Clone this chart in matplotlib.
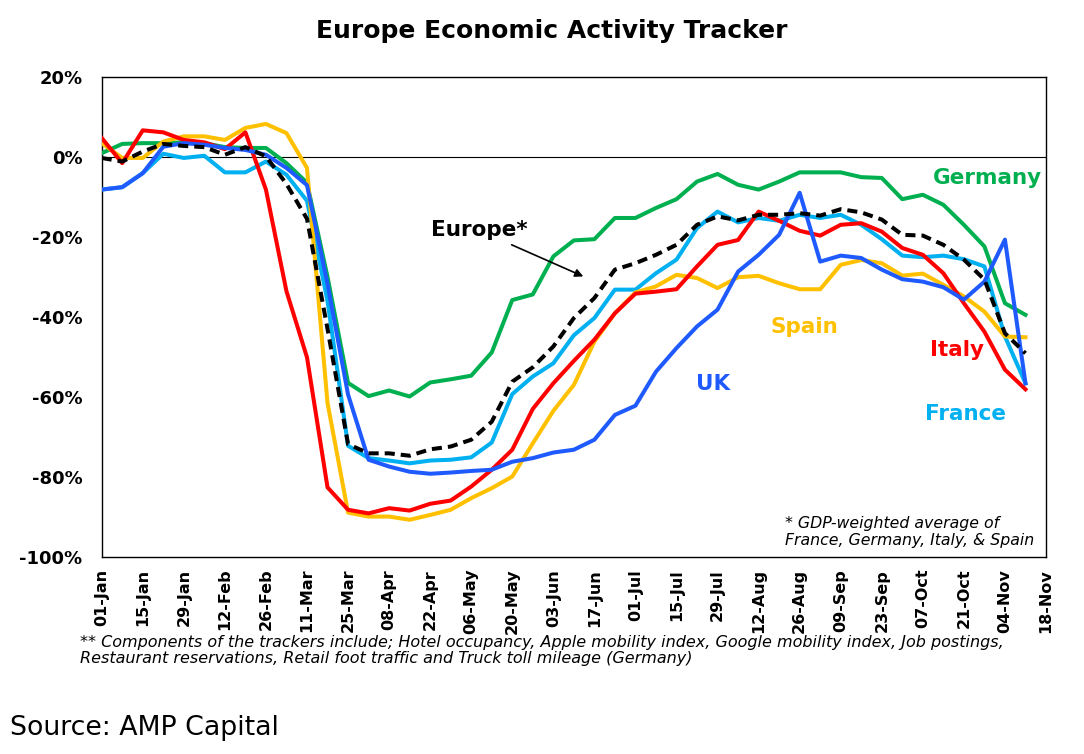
import matplotlib
matplotlib.use("Agg")
import matplotlib.pyplot as plt
import numpy as np

# ---- data (weekly, % change), first point 01-Jan, last 11-Nov ----
germany = [0.9, 3.2, 3.4, 3.4, 3.6, 3.4, 2.4, 2.2, 2.2, -1.6, -6.5, -30.0,
           -56.5, -59.8, -58.4, -59.9, -56.4, -55.6, -54.7, -48.9, -35.8, -34.4,
           -24.9, -20.9, -20.6, -15.3, -15.3, -12.8, -10.6, -6.2, -4.3, -7.0,
           -8.2, -6.2, -3.9, -3.9, -3.9, -5.1, -5.3, -10.6, -9.5, -12.0, -17.0,
           -22.4, -36.6, -39.5]
france = [-8.2, -7.6, -4.1, 0.75, -0.3, 0.25, -3.9, -3.9, -1.2, -4.5, -11.0, -36.0,
          -72.2, -75.3, -75.9, -76.6, -75.9, -75.7, -75.1, -71.4, -59.3, -54.9,
          -51.6, -44.6, -40.3, -33.2, -33.2, -29.1, -25.7, -17.8, -13.7, -16.4,
          -15.3, -16.0, -14.5, -15.3, -14.5, -17.0, -20.6, -24.7, -25.1, -24.7,
          -25.6, -27.4, -44.9, -56.6]
italy = [4.7, -1.6, 6.6, 6.1, 4.2, 3.6, 1.9, 6.1, -8.2, -33.6, -50.1, -82.6,
         -88.2, -89.1, -87.8, -88.4, -86.7, -85.9, -82.4, -78.2, -73.2, -63.0,
         -56.6, -51.0, -45.7, -39.1, -34.2, -33.7, -33.1, -27.4, -22.0, -20.8,
         -13.7, -16.0, -18.5, -19.7, -17.0, -16.6, -18.7, -22.8, -24.5, -29.1,
         -36.6, -43.7, -53.2, -58.1]
spain = [3.4, -0.3, -0.3, 3.8, 5.1, 5.1, 4.2, 7.2, 8.2, 5.9, -2.8, -61.5,
         -88.9, -89.9, -89.9, -90.7, -89.5, -88.2, -85.3, -82.8, -79.9, -71.6,
         -63.5, -57.0, -46.2, -39.1, -33.9, -32.4, -29.5, -30.3, -32.8, -30.1,
         -29.75, -31.6, -33.1, -33.1, -27.0, -25.8, -26.6, -29.7, -29.2, -32.0,
         -34.9, -38.7, -44.9, -45.1]
uk = [-8.2, -7.6, -4.1, 2.5, 3.4, 3.0, 2.2, 1.7, 0.5, -2.8, -7.1, -31.8,
      -59.4, -75.7, -77.4, -78.7, -79.2, -78.9, -78.5, -78.2, -76.2, -75.3,
      -73.9, -73.2, -70.7, -64.5, -62.2, -53.7, -47.8, -42.4, -38.2, -28.7,
      -24.5, -19.5, -9.0, -26.2, -24.7, -25.3, -28.2, -30.6, -31.2, -32.6,
      -35.7, -31.2, -20.7, -56.6]
europe = [-0.3, -1.2, 1.3, 3.2, 2.7, 2.4, 0.5, 2.4, 0.1, -6.8, -15.5, -43.0,
          -71.8, -74.1, -74.1, -74.7, -73.1, -72.4, -70.7, -66.2, -56.2, -52.6,
          -47.4, -40.3, -35.3, -28.2, -26.6, -24.5, -22.0, -17.0, -14.9, -15.9,
          -14.5, -14.5, -14.1, -14.7, -13.1, -13.9, -15.7, -19.5, -19.7, -22.0,
          -25.7, -30.7, -44.1, -49.1]

tick_labels = ["01-Jan", "15-Jan", "29-Jan", "12-Feb", "26-Feb", "11-Mar", "25-Mar",
               "08-Apr", "22-Apr", "06-May", "20-May", "03-Jun", "17-Jun", "01-Jul",
               "15-Jul", "29-Jul", "12-Aug", "26-Aug", "09-Sep", "23-Sep", "07-Oct",
               "21-Oct", "04-Nov", "18-Nov"]
y_ticks = [20, 0, -20, -40, -60, -80, -100]

C_GER = "#00B050"
C_FRA = "#00B0F0"
C_ITA = "#FF0000"
C_SPA = "#FFC000"
C_UK = "#1F5AFF"

W, H = 1084, 754
fig = plt.figure(figsize=(W / 100, H / 100), dpi=100)
ax = fig.add_axes([101.7 / W, 1 - 557 / H, (1046 - 101.7) / W, (557 - 76.7) / H])

x = np.arange(len(europe))
lw = 2.9
ax.plot(x, germany, color=C_GER, lw=lw, zorder=3)
ax.plot(x, france, color=C_FRA, lw=lw, zorder=3)
ax.plot(x, spain, color=C_SPA, lw=lw, zorder=3)
ax.plot(x, italy, color=C_ITA, lw=lw, zorder=4)
ax.plot(x, uk, color=C_UK, lw=lw, zorder=5)
ax.plot(x, europe, color="black", lw=lw, linestyle=(0, (2.5, 1.5)), zorder=6)

ax.axhline(0, color="black", lw=0.8, zorder=2)

ax.set_xlim(0, 46)
ax.set_ylim(-100, 20)
ax.set_xticks(np.arange(0, 47, 2))
ax.set_xticklabels(tick_labels, rotation=90, fontweight="bold", fontsize=11.5)
ax.set_yticks(y_ticks)
ax.set_yticklabels([f"{v}%" for v in y_ticks], fontweight="bold", fontsize=13)
ax.tick_params(axis="x", length=0, pad=8.5)
ax.tick_params(axis="y", length=0, pad=14)
for s in ax.spines.values():
    s.set_color("black")
    s.set_linewidth(1.0)

# series labels
lab = dict(fontsize=15.5, fontweight="bold", ha="center", va="baseline")
ax.text(43.15, -6.75, "Germany", color=C_GER, **lab)
ax.text(18.38, -19.75, "Europe*", color="black", **lab)
ax.text(34.25, -44.1, "Spain", color=C_SPA, **lab)
ax.text(41.66, -49.7, "Italy", color=C_ITA, **lab)
ax.text(29.78, -58.4, "UK", color=C_UK, **lab)
ax.text(42.1, -65.75, "France", color=C_FRA, **lab)

ax.annotate("", xy=(23.46, -29.9), xytext=(19.97, -22.0),
            arrowprops=dict(arrowstyle="-|>", color="black", lw=1.2,
                            mutation_scale=12, shrinkA=0, shrinkB=0), zorder=7)

ax.text(33.3, -92.75, "* GDP-weighted average of", fontsize=11.3, style="italic",
        ha="left", va="baseline")
ax.text(33.3, -97.0, "France, Germany, Italy, & Spain", fontsize=11.3, style="italic",
        ha="left", va="baseline")

def ftext(px, py, s, **kw):
    fig.text(px / W, 1 - py / H, s, **kw)

ftext(552, 38.3, "Europe Economic Activity Tracker", fontsize=18, fontweight="bold",
      ha="center", va="baseline")
ftext(80, 647.5, "** Components of the trackers include; Hotel occupancy, Apple mobility index, "
      "Google mobility index, Job postings,", fontsize=11.5, style="italic",
      ha="left", va="baseline")
ftext(80, 663.5, "Restaurant reservations, Retail foot traffic and Truck toll mileage (Germany)",
      fontsize=11.5, style="italic", ha="left", va="baseline")
ftext(10, 735, "Source: AMP Capital", fontsize=19.3, ha="left", va="baseline")

fig.savefig("out.png", dpi=100)
